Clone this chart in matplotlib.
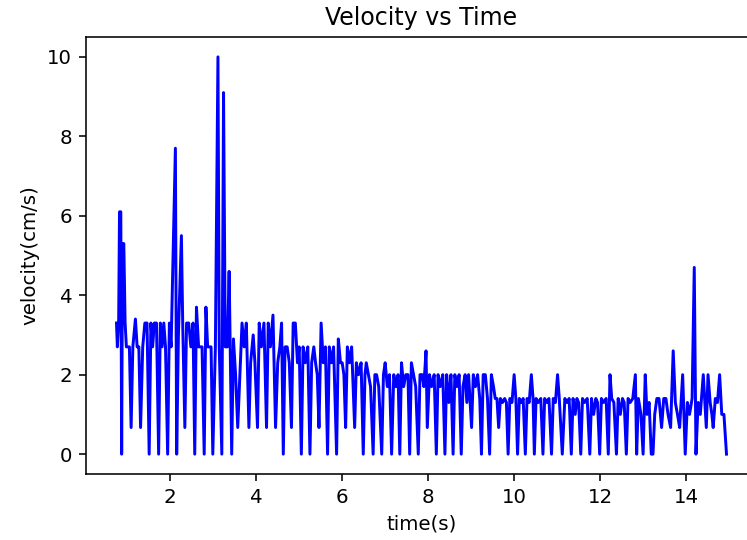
# Velocity vs time plot, values
import matplotlib
matplotlib.use("Agg")
import matplotlib.pyplot as plt

time_s = [
    0.75, 0.77, 0.80, 0.82, 0.85, 0.87, 0.89, 0.92, 0.95, 0.98, 1.02, 1.05, 1.09, 1.13, 1.19,
    1.23, 1.27, 1.31, 1.36, 1.41, 1.46, 1.51, 1.55, 1.59, 1.63, 1.68, 1.73, 1.77, 1.81, 1.85,
    1.89, 1.94, 1.98, 2.02, 2.12, 2.15, 2.19, 2.26, 2.29, 2.34, 2.38, 2.43, 2.48, 2.53, 2.57,
    2.61, 2.66, 2.70, 2.74, 2.79, 2.83, 2.87, 2.91, 2.95, 2.99, 3.05, 3.11, 3.14, 3.20, 3.24,
    3.28, 3.33, 3.37, 3.43,
    3.47, 3.52, 3.57, 3.62, 3.67, 3.72, 3.77, 3.83, 3.87, 3.93, 3.97, 4.03, 4.07, 4.12, 4.18,
    4.24, 4.28, 4.33, 4.39, 4.45, 4.50, 4.55, 4.59, 4.63,
    4.67, 4.72, 4.77, 4.82, 4.86, 4.91, 4.96, 5.00, 5.05, 5.09, 5.14, 5.20, 5.25, 5.29, 5.34,
    5.38, 5.42, 5.46, 5.51, 5.56, 5.61, 5.66, 5.70, 5.75, 5.80, 5.87, 5.91, 5.96, 6.00, 6.04,
    6.08, 6.12, 6.17, 6.22, 6.29, 6.33, 6.38, 6.44, 6.49,
    6.53, 6.56, 6.61, 6.66, 6.72, 6.76, 6.80, 6.85, 6.92, 6.96, 7.00, 7.05, 7.10, 7.15, 7.20,
    7.25, 7.30, 7.34, 7.38, 7.43, 7.48, 7.53, 7.57, 7.61, 7.66, 7.71, 7.77, 7.81, 7.86, 7.90,
    7.95, 7.98, 8.03, 8.08, 8.14, 8.19, 8.23, 8.28, 8.34, 8.39, 8.43, 8.48, 8.53, 8.58, 8.62,
    8.67, 8.72, 8.77, 8.81, 8.86, 8.90, 8.94,
    9.01, 9.05, 9.10, 9.15, 9.20, 9.24, 9.28, 9.33, 9.38, 9.43, 9.47, 9.52, 9.56, 9.60, 9.64,
    9.68, 9.73, 9.78, 9.82, 9.86, 9.90, 9.95, 10.00, 10.04, 10.08, 10.12, 10.17, 10.21, 10.26,
    10.30, 10.35, 10.40, 10.44, 10.47, 10.51, 10.56, 10.62, 10.67, 10.71, 10.76, 10.81, 10.87,
    10.91, 10.96, 11.01, 11.05,
    11.12, 11.18, 11.23, 11.28, 11.33, 11.37, 11.42, 11.46, 11.50, 11.55, 11.59, 11.64, 11.70,
    11.76, 11.80, 11.85, 11.90, 11.94, 11.99, 12.03, 12.08, 12.14, 12.19, 12.23, 12.27, 12.32,
    12.38, 12.42, 12.47, 12.52, 12.56, 12.61, 12.65, 12.70, 12.76, 12.82, 12.85, 12.89, 12.95,
    13.00, 13.05, 13.09, 13.14, 13.19,
    13.23, 13.27, 13.32, 13.37, 13.43, 13.48, 13.53, 13.58, 13.64, 13.70, 13.75, 13.80, 13.85,
    13.92, 13.98, 14.03, 14.08, 14.14, 14.19, 14.23, 14.28, 14.33, 14.40, 14.47, 14.51, 14.56,
    14.60, 14.63, 14.68, 14.73, 14.78, 14.83, 14.88, 14.94,
]

velocity = [
    3.3, 2.7, 3.3, 6.1, 6.1, 0.0, 5.3, 5.3, 3.3, 2.7, 2.7, 2.7, 0.67, 2.7, 3.4,
    2.7, 2.7, 0.67, 2.7, 3.3, 3.3, 0.0, 3.3, 2.7, 3.3, 3.3, 0.0, 3.3, 2.7, 3.3,
    2.7, 0.0, 3.3, 2.7, 7.7, 0.0, 3.0, 5.5, 3.3, 0.67, 3.3, 3.3, 2.7, 3.3, 0.0,
    3.7, 2.7, 2.7, 2.7, 0.0, 3.7, 2.7, 2.7, 2.7, 0.0, 2.7, 10.0, 2.7, 0.0, 9.1,
    2.7, 2.7, 4.6, 0.0,
    2.9, 2.0, 0.67, 2.0, 3.3, 2.7, 3.3, 0.67, 2.3, 3.0, 2.3, 0.67, 3.3, 2.7, 3.3,
    0.67, 3.3, 2.7, 3.5, 0.67, 2.3, 2.7, 3.3, 0.0,
    2.7, 2.7, 2.3, 0.67, 3.3, 3.3, 2.3, 2.7, 0.0, 2.7, 2.3, 2.7, 0.0, 2.3, 2.7,
    2.3, 2.0, 0.67, 3.3, 2.3, 2.7, 0.0, 2.7, 2.3, 2.7, 0.0, 2.9, 2.3, 2.3, 2.0,
    0.67, 2.7, 2.3, 2.7, 0.67, 2.3, 2.0, 2.3, 0.0,
    2.0, 2.3, 2.0, 1.7, 0.0, 2.0, 2.0, 1.7, 0.0, 2.0, 2.3, 1.7, 2.0, 0.0, 2.0,
    1.7, 2.0, 0.0, 2.3, 1.7, 2.0, 2.0, 0.0, 2.3, 2.0, 1.7, 0.0, 2.0, 2.0, 1.7,
    2.6, 0.67, 2.0, 1.7, 2.0, 0.0, 2.0, 1.7, 2.0, 0.0, 2.0, 1.3, 2.0, 0.0, 2.0,
    1.7, 2.0, 0.0, 1.7, 2.0, 1.3, 2.0,
    0.67, 2.0, 1.7, 2.0, 1.4, 0.0, 2.0, 2.0, 1.4, 0.0, 2.0, 1.7, 1.4, 1.4, 0.67,
    1.4, 1.3, 1.4, 1.3, 0.0, 1.4, 1.3, 2.0, 1.4, 0.0, 1.4, 1.3, 1.4, 0.0,
    1.4, 1.3, 2.0, 1.4, 0.0, 1.4, 1.3, 1.4, 0.0, 1.4, 1.3, 1.4, 0.0,
    1.4, 1.3, 2.0, 1.4,
    0.0, 1.4, 1.3, 1.4, 0.0, 1.4, 1.0, 1.4, 1.3, 0.0, 1.4, 1.3, 1.4,
    0.0, 1.4, 1.0, 1.4, 1.3, 0.0, 1.4, 1.3, 1.4, 0.0, 2.0, 1.4, 1.3,
    0.0, 1.4, 1.0, 1.4, 1.3, 0.0, 1.4, 1.3, 1.4, 2.0, 0.0, 1.4, 1.0,
    0.0, 2.0, 1.0, 1.3, 0.0,
    0.0, 1.0, 1.4, 1.4, 0.67, 1.4, 1.4, 1.0, 0.67, 2.6, 1.3, 1.0, 0.67,
    2.0, 0.0, 1.3, 1.0, 1.4, 4.7, 0.0, 1.3, 1.0, 2.0, 0.67, 2.0, 1.3,
    1.0, 0.67, 1.4, 1.3, 2.0, 1.0, 1.0, 0.0,
]

DPI = 142
fig = plt.figure(figsize=(747 / DPI, 540 / DPI), dpi=DPI)
# axes run past the right edge, like the cropped original
ax = fig.add_axes([86 / 747, 66 / 540, 671 / 747, 437 / 540])

ax.plot(time_s, velocity, color='b')
ax.set_title('Velocity vs Time')
ax.set_xlabel('time(s)')
ax.set_ylabel('velocity(cm/s)')
# right spine falls outside the cropped picture
ax.spines['right'].set_visible(False)

fig.savefig('out.png', dpi=DPI)
